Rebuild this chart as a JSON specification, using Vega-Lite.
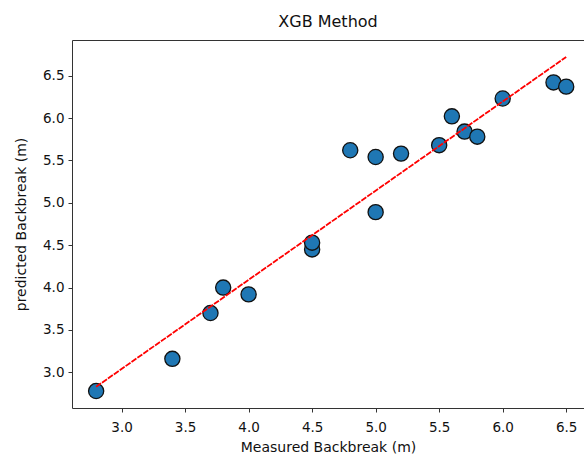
{
  "$schema": "https://vega.github.io/schema/vega-lite/v6.json",
  "width": 512,
  "height": 368,
  "autosize": "none",
  "padding": {"left": 72, "top": 40, "right": 0, "bottom": 54},
  "background": "white",
  "title": {
    "text": "XGB Method",
    "font": "DejaVu Sans",
    "fontSize": 16,
    "fontWeight": "normal",
    "color": "#111111",
    "anchor": "middle",
    "offset": 10
  },
  "config": {
    "view": {"stroke": null},
    "axis": {
      "grid": false,
      "domainColor": "#333333",
      "domainWidth": 1,
      "tickColor": "#333333",
      "tickSize": 4,
      "tickWidth": 1,
      "labelFont": "DejaVu Sans",
      "labelFontSize": 13.5,
      "labelColor": "#111111",
      "titleFont": "DejaVu Sans",
      "titleFontSize": 14,
      "titleFontWeight": "normal",
      "titleColor": "#111111",
      "labelPadding": 4
    }
  },
  "resolve": {"axis": {"x": "independent"}},
  "layer": [
    {
      "data": {
        "values": [
          {"measured": 2.8, "predicted": 2.78},
          {"measured": 3.4, "predicted": 3.16},
          {"measured": 3.7, "predicted": 3.70},
          {"measured": 3.8, "predicted": 4.00},
          {"measured": 4.0, "predicted": 3.92},
          {"measured": 4.5, "predicted": 4.45},
          {"measured": 4.5, "predicted": 4.53},
          {"measured": 4.8, "predicted": 5.62},
          {"measured": 5.0, "predicted": 5.54},
          {"measured": 5.0, "predicted": 4.89},
          {"measured": 5.2, "predicted": 5.58},
          {"measured": 5.5, "predicted": 5.68},
          {"measured": 5.6, "predicted": 6.02},
          {"measured": 5.7, "predicted": 5.84},
          {"measured": 5.8, "predicted": 5.78},
          {"measured": 6.0, "predicted": 6.23},
          {"measured": 6.4, "predicted": 6.42},
          {"measured": 6.5, "predicted": 6.37}
        ]
      },
      "mark": {
        "type": "point",
        "shape": "circle",
        "filled": true,
        "size": 230,
        "fill": "#1f77b4",
        "stroke": "#111111",
        "strokeWidth": 1.3,
        "opacity": 1
      },
      "encoding": {
        "x": {
          "field": "measured",
          "type": "quantitative",
          "scale": {"domain": [2.61, 6.64], "nice": false, "zero": false},
          "axis": {"title": "Measured Backbreak (m)", "values": [3.0, 3.5, 4.0, 4.5, 5.0, 5.5, 6.0, 6.5], "format": ".1f", "labelPadding": 8, "titlePadding": 7}
        },
        "y": {
          "field": "predicted",
          "type": "quantitative",
          "scale": {"domain": [2.58, 6.92], "nice": false, "zero": false},
          "axis": {"title": "predicted Backbreak (m)", "values": [3.0, 3.5, 4.0, 4.5, 5.0, 5.5, 6.0, 6.5], "format": ".1f", "titlePadding": 14}
        }
      }
    },
    {
      "data": {
        "values": [
          {"measured": 2.8, "fit": 2.83},
          {"measured": 6.5, "fit": 6.72}
        ]
      },
      "mark": {"type": "line", "color": "#ff0000", "strokeWidth": 1.8, "strokeDash": [6, 1.2]},
      "encoding": {
        "x": {"field": "measured", "type": "quantitative", "axis": null},
        "y": {"field": "fit", "type": "quantitative"}
      }
    },
    {
      "data": {"values": [{"measured": 3.0}]},
      "mark": {"type": "point", "opacity": 0},
      "encoding": {
        "x": {
          "field": "measured",
          "type": "quantitative",
          "axis": {"orient": "top", "title": null, "labels": false, "ticks": false, "domain": true}
        }
      }
    }
  ]
}
